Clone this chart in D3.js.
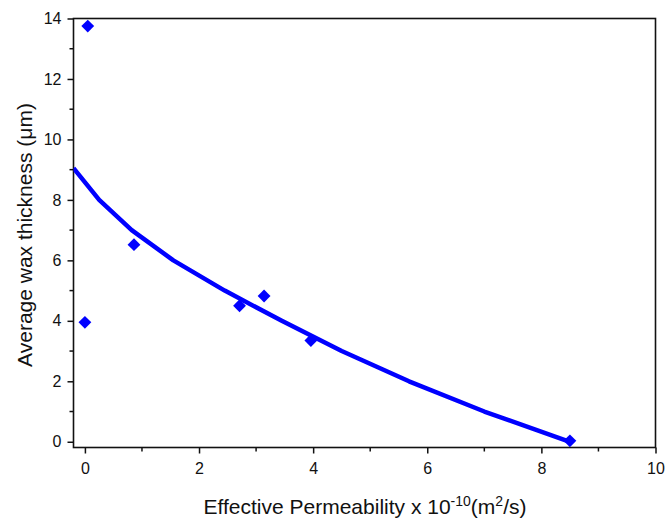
<!DOCTYPE html>
<html>
<head>
<meta charset="utf-8">
<script src="https://cdn.jsdelivr.net/npm/d3@7"></script>
<style>
  body { margin: 0; background: #fff; }
  svg text { font-family: "Liberation Sans", Arial, sans-serif; fill: #111; }
</style>
</head>
<body>
<div id="chart"></div>
<script>
// measured points
var pointX = [0.05, 0.0, 0.86, 2.71, 3.14, 3.96, 8.5];
var pointY = [13.75, 3.95, 6.52, 4.5, 4.82, 3.35, 0.03];

// fitted curve
var fitX = [-0.2, 0.25, 0.82, 1.55, 2.45, 3.45, 4.5, 5.68, 7.0, 8.5];
var fitY = [9.05, 8, 7, 6, 5, 4, 3, 2, 1, 0];

var xTicks = [0, 2, 4, 6, 8, 10];
var yTicks = [0, 2, 4, 6, 8, 10, 12, 14];
var xMinor = [1, 3, 5, 7, 9];
var yMinor = [1, 3, 5, 7, 9, 11, 13];

var width = 668, height = 525;
var margin = { left: 73.5, top: 18.5, right: 12.5, bottom: 77.5 };
var blue = "#0000ff";

var svg = d3.select("#chart").append("svg")
    .attr("width", width).attr("height", height);

var x = d3.scaleLinear().domain([-0.2, 10]).range([margin.left, width - margin.right]);
var y = d3.scaleLinear().domain([-0.19, 14]).range([height - margin.bottom, margin.top]);

var plotH = height - margin.bottom - margin.top;

// axes
var xAxis = svg.append("g")
    .attr("transform", "translate(0," + (height - margin.bottom) + ")")
    .call(d3.axisBottom(x).tickValues(xTicks).tickSize(6).tickPadding(9).tickFormat(d3.format("d")));
xAxis.append("g").selectAll("line").data(xMinor).join("line")
    .attr("x1", function(d) { return x(d); }).attr("x2", function(d) { return x(d); })
    .attr("y1", 0).attr("y2", 4).attr("stroke", "#111").attr("stroke-width", 1.5);

var yAxis = svg.append("g")
    .attr("transform", "translate(" + margin.left + ",0)")
    .call(d3.axisLeft(y).tickValues(yTicks).tickSize(6).tickPadding(6).tickFormat(d3.format("d")));
yAxis.append("g").selectAll("line").data(yMinor).join("line")
    .attr("y1", function(d) { return y(d); }).attr("y2", function(d) { return y(d); })
    .attr("x1", 0).attr("x2", -4).attr("stroke", "#111").attr("stroke-width", 1.5);

svg.selectAll(".domain").remove();
svg.selectAll(".tick line").attr("stroke", "#111").attr("stroke-width", 1.5);
svg.selectAll(".tick text").attr("font-size", 16).style("font-family", "Liberation Sans, Arial, sans-serif").attr("fill", "#111");

// frame
svg.append("rect")
    .attr("x", margin.left).attr("y", margin.top)
    .attr("width", width - margin.left - margin.right).attr("height", plotH)
    .attr("fill", "none").attr("stroke", "#111").attr("stroke-width", 1.6);

svg.append("clipPath").attr("id", "clip").append("rect")
    .attr("x", margin.left).attr("y", margin.top)
    .attr("width", width - margin.left - margin.right).attr("height", plotH);

// fit line
var line = d3.line()
    .x(function(d, i) { return x(fitX[i]); })
    .y(function(d, i) { return y(fitY[i]); });
svg.append("path")
    .datum(fitX)
    .attr("d", line)
    .attr("clip-path", "url(#clip)")
    .attr("fill", "none").attr("stroke", blue).attr("stroke-width", 4.5)
    .attr("stroke-linejoin", "round");

// diamonds
var diamond = d3.symbol().type(d3.symbolDiamond2).size(105);
svg.append("g").selectAll("path").data(pointX).join("path")
    .attr("transform", function(d, i) { return "translate(" + x(d) + "," + y(pointY[i]) + ")"; })
    .attr("d", diamond)
    .attr("fill", blue);

// titles
var xt = svg.append("text")
    .attr("x", 365)
    .attr("y", 514)
    .attr("text-anchor", "middle")
    .attr("font-size", 21);
xt.append("tspan").text("Effective Permeability x 10");
xt.append("tspan").attr("dy", -8).attr("font-size", 14).text("-10");
xt.append("tspan").attr("dy", 8).text("(m");
xt.append("tspan").attr("dy", -8).attr("font-size", 14).text("2");
xt.append("tspan").attr("dy", 8).text("/s)");

svg.append("text")
    .attr("transform", "translate(32,235) rotate(-90)")
    .attr("text-anchor", "middle")
    .attr("font-size", 21)
    .text("Average wax thickness (\u03bcm)");
</script>
</body>
</html>
